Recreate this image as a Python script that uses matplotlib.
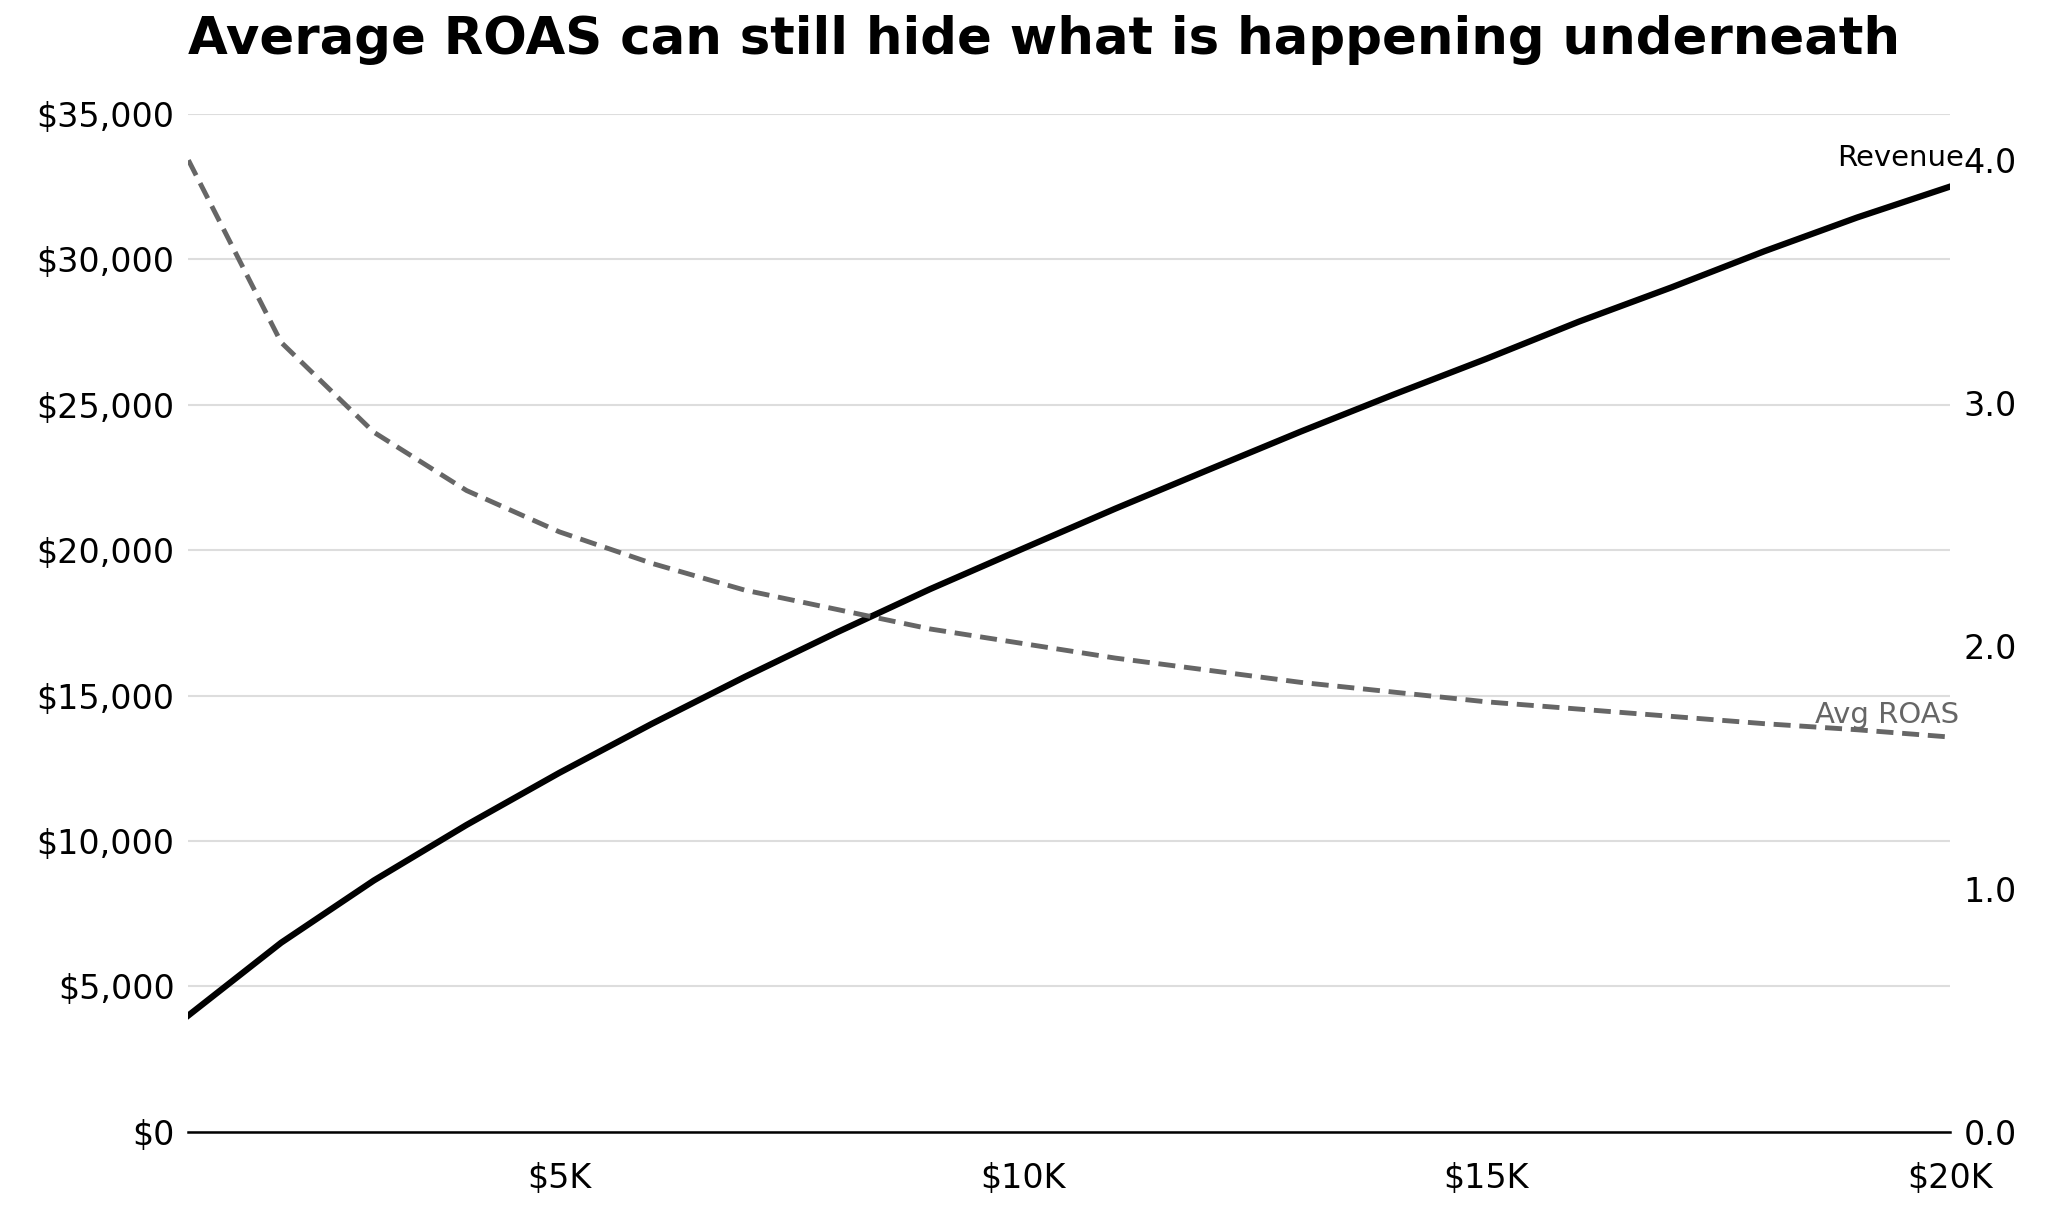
import matplotlib
matplotlib.use("Agg")
import matplotlib.pyplot as plt
from matplotlib.ticker import FuncFormatter

spend = [1000,2000,3000,4000,5000,6000,7000,8000,9000,10000,11000,12000,13000,14000,15000,16000,17000,18000,19000,20000]
revenue = [4000,6500,8640,10550,12340,14030,15640,17180,18660,20050,21430,22760,24080,25350,26580,27860,29040,30280,31440,32500]
roas = [4.00,3.25,2.88,2.64,2.47,2.34,2.23,2.15,2.07,2.01,1.95,1.90,1.85,1.81,1.77,1.74,1.71,1.68,1.655,1.625]

fig = plt.figure(figsize=(20.48, 12.13), dpi=100)
ax = fig.add_axes([0.092, 0.067, 0.86, 0.839])
ax2 = ax.twinx()

ax.plot(spend, revenue, color="black", lw=4.5, zorder=3)
ax2.plot(spend, roas, color="#666666", lw=3.5, ls=(0, (3.5, 1.8)))

ax.set_xlim(1000, 20000)
ax.set_ylim(0, 35000)
ax2.set_ylim(0, 4.19)
ax.set_yticks(range(0, 35001, 5000))
ax.yaxis.set_major_formatter(FuncFormatter(lambda v, p: f"${v:,.0f}"))
ax.set_xticks([5000, 10000, 15000, 20000])
ax.xaxis.set_major_formatter(FuncFormatter(lambda v, p: f"${v/1000:.0f}K"))
ax2.set_yticks([0, 1, 2, 3, 4])
ax2.yaxis.set_major_formatter(FuncFormatter(lambda v, p: f"{v:.1f}"))

ax.grid(axis="y", color="#dddddd", lw=1.5)
ax.set_axisbelow(True)
for a in (ax, ax2):
    for s in ("top", "left", "right", "bottom"):
        a.spines[s].set_visible(False)
    a.tick_params(length=0, labelsize=24, pad=10)
ax.spines["bottom"].set_visible(True)
ax.spines["bottom"].set_linewidth(1.8)
ax.tick_params(axis="x", pad=22)

ax.text(20150, 33000, "Revenue", ha="right", va="bottom", fontsize=21, color="black")
ax2.text(18550, 1.66, "Avg ROAS", ha="left", va="bottom", fontsize=21, color="#666666")

fig.text(0.092, 0.988, "Average ROAS can still hide what is happening underneath",
         fontsize=37, fontweight="bold", ha="left", va="top")

fig.savefig("out.png", dpi=100)
